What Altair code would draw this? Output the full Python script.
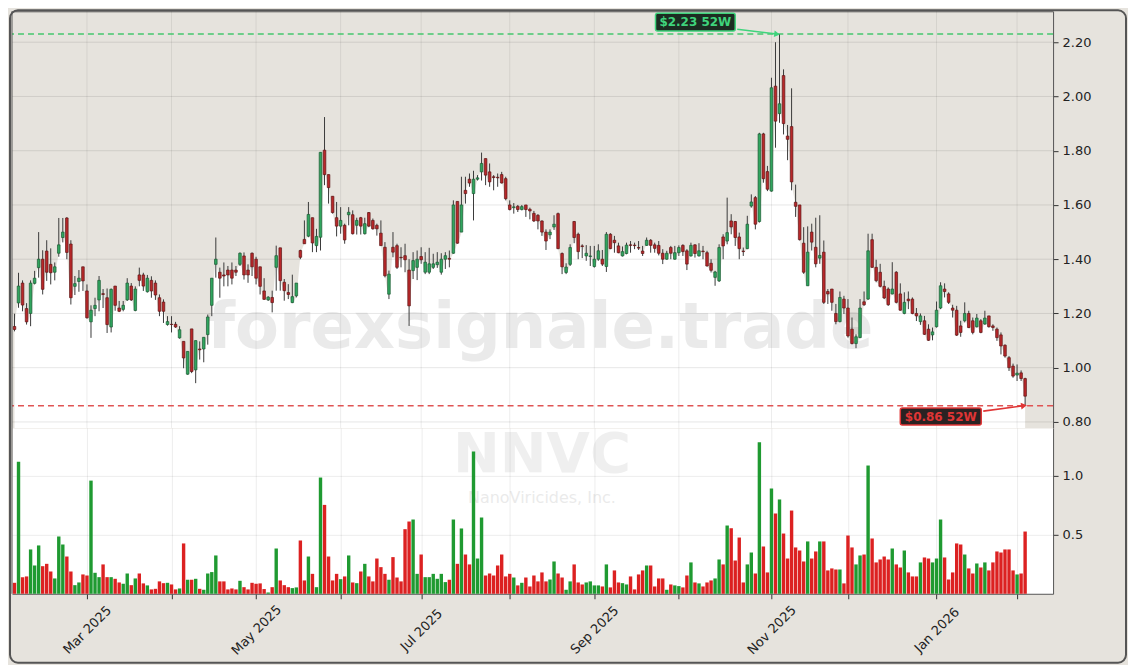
import altair as alt
import pandas as pd
import numpy as np

# ---------------- data ----------------
OPEN = [
    1.152, 1.239, 1.312, 1.218, 1.200, 1.311, 1.369, 1.400, 1.430, 1.381,
    1.352, 1.422, 1.480, 1.552, 1.456, 1.300, 1.318, 1.372, 1.283, 1.169,
    1.218, 1.250, 1.273, 1.258, 1.150, 1.301, 1.220, 1.215, 1.250, 1.301,
    1.211, 1.342, 1.342, 1.280, 1.322, 1.312, 1.258, 1.242, 1.159, 1.160,
    1.160, 1.110, 1.097, 0.976, 1.143, 0.992, 1.069, 1.069, 1.122, 1.230,
    1.381, 1.352, 1.342, 1.360, 1.360, 1.360, 1.381, 1.412, 1.360, 1.422,
    1.400, 1.372, 1.283, 1.250, 1.259, 1.370, 1.442, 1.315, 1.277, 1.240,
    1.265, 1.432, 1.473, 1.485, 1.553, 1.450, 1.481, 1.802, 1.712, 1.632,
    1.553, 1.522, 1.525, 1.564, 1.564, 1.525, 1.553, 1.494, 1.572, 1.543,
    1.525, 1.496, 1.444, 1.271, 1.444, 1.450, 1.407, 1.413, 1.360, 1.358,
    1.370, 1.410, 1.352, 1.352, 1.370, 1.380, 1.352, 1.400, 1.403, 1.422,
    1.613, 1.500, 1.654, 1.695, 1.642, 1.695, 1.722, 1.771, 1.722, 1.704,
    1.702, 1.712, 1.697, 1.600, 1.590, 1.595, 1.583, 1.600, 1.584, 1.569,
    1.562, 1.541, 1.500, 1.490, 1.519, 1.568, 1.421, 1.351, 1.381, 1.539,
    1.492, 1.449, 1.412, 1.410, 1.373, 1.400, 1.400, 1.373, 1.492, 1.470,
    1.449, 1.412, 1.421, 1.453, 1.452, 1.443, 1.430, 1.451, 1.470, 1.453,
    1.451, 1.422, 1.400, 1.443, 1.400, 1.424, 1.451, 1.431, 1.412, 1.453,
    1.412, 1.430, 1.424, 1.385, 1.333, 1.320, 1.482, 1.467, 1.541, 1.539,
    1.482, 1.430, 1.439, 1.596, 1.627, 1.539, 1.862, 1.723, 1.651, 2.038,
    1.937, 2.077, 1.854, 1.889, 1.610, 1.600, 1.459, 1.302, 1.500, 1.444,
    1.404, 1.426, 1.281, 1.290, 1.200, 1.170, 1.253, 1.220, 1.142, 1.089,
    1.111, 1.243, 1.253, 1.472, 1.370, 1.352, 1.300, 1.290, 1.272, 1.352,
    1.272, 1.200, 1.253, 1.253, 1.200, 1.170, 1.173, 1.142, 1.121, 1.151,
    1.220, 1.290, 1.272, 1.220, 1.212, 1.154, 1.173, 1.200, 1.173, 1.151,
    1.173, 1.161, 1.191, 1.154, 1.142, 1.121, 1.083, 1.037, 1.006, 0.973,
    0.981, 0.960,
]
HIGH = [
    1.199, 1.350, 1.322, 1.238, 1.322, 1.357, 1.500, 1.433, 1.470, 1.440,
    1.388, 1.552, 1.552, 1.555, 1.470, 1.338, 1.360, 1.372, 1.307, 1.230,
    1.258, 1.338, 1.290, 1.292, 1.292, 1.301, 1.246, 1.246, 1.330, 1.312,
    1.300, 1.369, 1.350, 1.342, 1.337, 1.322, 1.270, 1.252, 1.190, 1.190,
    1.169, 1.153, 1.097, 1.060, 1.143, 1.100, 1.097, 1.112, 1.196, 1.330,
    1.480, 1.369, 1.388, 1.375, 1.388, 1.375, 1.425, 1.425, 1.381, 1.425,
    1.409, 1.372, 1.330, 1.264, 1.284, 1.450, 1.442, 1.327, 1.308, 1.343,
    1.312, 1.435, 1.543, 1.611, 1.553, 1.512, 1.794, 1.924, 1.712, 1.632,
    1.611, 1.592, 1.531, 1.592, 1.580, 1.553, 1.556, 1.553, 1.574, 1.550,
    1.531, 1.543, 1.463, 1.358, 1.500, 1.457, 1.444, 1.457, 1.400, 1.426,
    1.432, 1.444, 1.426, 1.442, 1.420, 1.426, 1.422, 1.426, 1.432, 1.617,
    1.613, 1.704, 1.704, 1.716, 1.726, 1.710, 1.793, 1.771, 1.753, 1.710,
    1.716, 1.722, 1.704, 1.617, 1.607, 1.600, 1.600, 1.600, 1.590, 1.578,
    1.566, 1.543, 1.510, 1.510, 1.562, 1.572, 1.425, 1.385, 1.455, 1.541,
    1.498, 1.455, 1.452, 1.449, 1.449, 1.455, 1.434, 1.500, 1.496, 1.486,
    1.461, 1.447, 1.461, 1.467, 1.461, 1.467, 1.449, 1.480, 1.474, 1.461,
    1.467, 1.437, 1.431, 1.449, 1.449, 1.451, 1.455, 1.437, 1.461, 1.455,
    1.459, 1.449, 1.431, 1.400, 1.357, 1.455, 1.492, 1.627, 1.566, 1.541,
    1.498, 1.443, 1.560, 1.639, 1.633, 1.866, 1.866, 1.744, 2.069, 2.200,
    2.230, 2.100, 1.895, 2.030, 1.675, 1.600, 1.518, 1.521, 1.531, 1.553,
    1.562, 1.469, 1.290, 1.290, 1.235, 1.281, 1.265, 1.253, 1.185, 1.123,
    1.253, 1.281, 1.494, 1.494, 1.398, 1.383, 1.321, 1.296, 1.389, 1.356,
    1.311, 1.278, 1.281, 1.259, 1.220, 1.200, 1.191, 1.160, 1.148, 1.244,
    1.315, 1.311, 1.278, 1.232, 1.228, 1.173, 1.241, 1.210, 1.185, 1.198,
    1.179, 1.210, 1.191, 1.160, 1.148, 1.130, 1.086, 1.043, 1.015, 1.012,
    0.990, 0.963,
]
LOW = [
    1.134, 1.221, 1.208, 1.159, 1.153, 1.307, 1.332, 1.270, 1.320, 1.307,
    1.322, 1.409, 1.462, 1.400, 1.233, 1.268, 1.280, 1.283, 1.181, 1.110,
    1.190, 1.208, 1.220, 1.128, 1.130, 1.210, 1.205, 1.208, 1.246, 1.246,
    1.208, 1.300, 1.283, 1.277, 1.258, 1.250, 1.190, 1.165, 1.155, 1.130,
    1.147, 1.107, 0.998, 0.974, 0.980, 0.943, 1.030, 1.020, 1.085, 1.190,
    1.332, 1.258, 1.300, 1.300, 1.307, 1.338, 1.375, 1.325, 1.313, 1.338,
    1.307, 1.270, 1.250, 1.246, 1.204, 1.284, 1.284, 1.247, 1.253, 1.238,
    1.259, 1.400, 1.457, 1.481, 1.426, 1.426, 1.432, 1.673, 1.605, 1.568,
    1.484, 1.494, 1.457, 1.525, 1.491, 1.491, 1.491, 1.491, 1.518, 1.509,
    1.487, 1.450, 1.333, 1.253, 1.407, 1.364, 1.370, 1.352, 1.154, 1.327,
    1.323, 1.383, 1.345, 1.345, 1.364, 1.368, 1.343, 1.364, 1.370, 1.420,
    1.457, 1.500, 1.605, 1.667, 1.543, 1.690, 1.690, 1.673, 1.667, 1.654,
    1.667, 1.679, 1.617, 1.580, 1.568, 1.574, 1.580, 1.556, 1.547, 1.537,
    1.510, 1.486, 1.434, 1.474, 1.508, 1.437, 1.345, 1.345, 1.375, 1.459,
    1.400, 1.404, 1.394, 1.375, 1.369, 1.394, 1.375, 1.353, 1.437, 1.424,
    1.422, 1.410, 1.418, 1.424, 1.437, 1.434, 1.412, 1.449, 1.424, 1.424,
    1.414, 1.382, 1.398, 1.400, 1.398, 1.412, 1.412, 1.360, 1.410, 1.406,
    1.410, 1.400, 1.373, 1.351, 1.302, 1.316, 1.400, 1.455, 1.492, 1.449,
    1.400, 1.412, 1.437, 1.590, 1.510, 1.535, 1.682, 1.651, 1.649, 1.811,
    1.903, 1.860, 1.765, 1.654, 1.556, 1.469, 1.346, 1.302, 1.432, 1.370,
    1.383, 1.235, 1.235, 1.210, 1.160, 1.167, 1.198, 1.111, 1.086, 1.072,
    1.109, 1.228, 1.250, 1.368, 1.315, 1.296, 1.253, 1.228, 1.270, 1.237,
    1.210, 1.197, 1.216, 1.197, 1.172, 1.158, 1.121, 1.099, 1.101, 1.148,
    1.216, 1.259, 1.235, 1.185, 1.117, 1.114, 1.167, 1.146, 1.123, 1.148,
    1.127, 1.158, 1.148, 1.136, 1.099, 1.049, 1.037, 0.988, 0.963, 0.951,
    0.951, 0.860,
]
CLOSE = [
    1.141, 1.301, 1.231, 1.169, 1.312, 1.330, 1.400, 1.289, 1.352, 1.350,
    1.372, 1.453, 1.500, 1.425, 1.258, 1.310, 1.330, 1.320, 1.184, 1.212,
    1.230, 1.322, 1.270, 1.159, 1.289, 1.230, 1.208, 1.230, 1.312, 1.250,
    1.290, 1.322, 1.301, 1.330, 1.283, 1.268, 1.208, 1.208, 1.170, 1.159,
    1.150, 1.140, 1.036, 1.060, 0.986, 1.100, 1.066, 1.112, 1.187, 1.330,
    1.400, 1.330, 1.338, 1.342, 1.330, 1.352, 1.422, 1.342, 1.342, 1.372,
    1.330, 1.300, 1.252, 1.260, 1.240, 1.413, 1.321, 1.284, 1.270, 1.262,
    1.312, 1.407, 1.457, 1.565, 1.460, 1.484, 1.794, 1.712, 1.664, 1.572,
    1.522, 1.543, 1.471, 1.573, 1.494, 1.543, 1.522, 1.531, 1.522, 1.512,
    1.512, 1.450, 1.339, 1.345, 1.426, 1.370, 1.405, 1.398, 1.228, 1.395,
    1.400, 1.398, 1.389, 1.383, 1.383, 1.389, 1.400, 1.413, 1.400, 1.600,
    1.459, 1.600, 1.642, 1.681, 1.695, 1.700, 1.753, 1.710, 1.685, 1.701,
    1.700, 1.681, 1.623, 1.583, 1.593, 1.583, 1.594, 1.583, 1.578, 1.541,
    1.541, 1.500, 1.467, 1.500, 1.529, 1.439, 1.372, 1.371, 1.443, 1.480,
    1.428, 1.447, 1.422, 1.412, 1.400, 1.431, 1.382, 1.492, 1.439, 1.461,
    1.424, 1.428, 1.452, 1.451, 1.450, 1.441, 1.421, 1.470, 1.451, 1.440,
    1.422, 1.400, 1.422, 1.422, 1.424, 1.443, 1.428, 1.382, 1.451, 1.421,
    1.431, 1.428, 1.375, 1.359, 1.353, 1.443, 1.449, 1.498, 1.519, 1.480,
    1.439, 1.428, 1.529, 1.611, 1.529, 1.862, 1.697, 1.658, 2.032, 1.909,
    1.973, 1.900, 1.842, 1.685, 1.595, 1.472, 1.352, 1.426, 1.463, 1.383,
    1.414, 1.241, 1.272, 1.241, 1.170, 1.259, 1.220, 1.117, 1.089, 1.114,
    1.220, 1.232, 1.431, 1.370, 1.321, 1.300, 1.257, 1.232, 1.290, 1.241,
    1.212, 1.241, 1.247, 1.200, 1.191, 1.191, 1.123, 1.101, 1.132, 1.212,
    1.302, 1.281, 1.241, 1.212, 1.120, 1.130, 1.200, 1.148, 1.130, 1.183,
    1.130, 1.183, 1.151, 1.148, 1.111, 1.080, 1.043, 1.000, 0.969, 0.980,
    0.960, 0.895,
]
VOLUME = [  # millions of shares
    0.093, 1.120, 0.141, 0.147, 0.376, 0.240, 0.410, 0.234, 0.254, 0.189,
    0.130, 0.486, 0.418, 0.316, 0.189, 0.073, 0.096, 0.164, 0.155, 0.960,
    0.178, 0.141, 0.249, 0.141, 0.141, 0.127, 0.096, 0.085, 0.172, 0.073,
    0.130, 0.172, 0.088, 0.071, 0.037, 0.042, 0.105, 0.090, 0.093, 0.079,
    0.037, 0.045, 0.427, 0.119, 0.119, 0.127, 0.042, 0.034, 0.172, 0.184,
    0.325, 0.105, 0.105, 0.037, 0.045, 0.037, 0.110, 0.056, 0.037, 0.093,
    0.085, 0.088, 0.040, 0.011, 0.056, 0.384, 0.113, 0.073, 0.056, 0.048,
    0.054, 0.452, 0.113, 0.316, 0.169, 0.056, 0.986, 0.754, 0.316, 0.113,
    0.169, 0.124, 0.147, 0.325, 0.096, 0.090, 0.189, 0.254, 0.147, 0.105,
    0.299, 0.226, 0.169, 0.119, 0.311, 0.138, 0.105, 0.548, 0.613, 0.630,
    0.169, 0.333, 0.141, 0.141, 0.169, 0.127, 0.169, 0.099, 0.119, 0.630,
    0.254, 0.554, 0.333, 0.249, 1.206, 0.299, 0.647, 0.155, 0.172, 0.155,
    0.240, 0.333, 0.147, 0.169, 0.138, 0.071, 0.093, 0.138, 0.062, 0.155,
    0.105, 0.181, 0.105, 0.121, 0.274, 0.172, 0.138, 0.034, 0.105, 0.249,
    0.096, 0.079, 0.096, 0.105, 0.071, 0.071, 0.062, 0.249, 0.054, 0.198,
    0.096, 0.090, 0.079, 0.147, 0.037, 0.164, 0.198, 0.240, 0.240, 0.062,
    0.130, 0.130, 0.034, 0.079, 0.071, 0.065, 0.054, 0.155, 0.266, 0.096,
    0.088, 0.062, 0.096, 0.113, 0.130, 0.291, 0.249, 0.579, 0.556, 0.282,
    0.477, 0.096, 0.249, 0.350, 0.172, 1.285, 0.401, 0.181, 0.893, 0.681,
    0.800, 0.511, 0.299, 0.706, 0.393, 0.367, 0.274, 0.444, 0.299, 0.359,
    0.444, 0.444, 0.198, 0.215, 0.206, 0.206, 0.088, 0.494, 0.393, 0.249,
    0.325, 0.333, 1.088, 0.469, 0.266, 0.291, 0.316, 0.291, 0.384, 0.249,
    0.223, 0.367, 0.181, 0.147, 0.147, 0.266, 0.308, 0.299, 0.266, 0.299,
    0.630, 0.308, 0.121, 0.181, 0.427, 0.418, 0.333, 0.215, 0.172, 0.257,
    0.223, 0.266, 0.198, 0.266, 0.359, 0.350, 0.376, 0.376, 0.198, 0.164,
    0.172, 0.528,
]

# month-start positions (trading-day index) and their labels
MONTH_TICKS = [18, 39, 60, 81, 101, 123, 144, 165, 188, 207, 229, 249]
MONTH_LABELS = ["Mar 2025", "", "May 2025", "", "Jul 2025", "", "Sep 2025", "",
                "Nov 2025", "", "Jan 2026", ""]
PRICE_TICKS = [0.80, 1.00, 1.20, 1.40, 1.60, 1.80, 2.00, 2.20]
VOLUME_TICKS = [0.5, 1.0]
HIGH_52W = 2.23
LOW_52W = 0.86
TICKER = "NNVC"
COMPANY = "NanoViricides, Inc."
WATERMARK = "forexsignale.trade"

# ---------------- frame ----------------
n = min(len(OPEN), len(HIGH), len(LOW), len(CLOSE), len(VOLUME))
df = pd.DataFrame({
    "i": np.arange(n),
    "open": OPEN[:n], "high": HIGH[:n], "low": LOW[:n],
    "close": CLOSE[:n], "volume": VOLUME[:n],
})
df["dir"] = np.where(df["close"] >= df["open"], "up", "down")
df["body_lo"] = np.minimum(df["open"], df["close"])

hi_idx = int(df["high"].idxmax())
lo_idx = int(df["low"].idxmin())

W, H1, H2 = 1042, 417, 166
FONT = "DejaVu Sans"
BG = "#e6e3dd"
SPINE = "#555555"

xscale = alt.Scale(domain=[-0.62, 257.94], nice=False, zero=False, padding=0)
pscale = alt.Scale(domain=[0.778, 2.314], nice=False, zero=False, padding=0)
vscale = alt.Scale(domain=[0, 1.407], nice=False, zero=False, padding=0)

x_top_axis = alt.Axis(orient="top", values=MONTH_TICKS, labels=False, ticks=False,
                      grid=False, domain=True, domainColor=SPINE, domainWidth=1,
                      title=None)
p_axis = alt.Axis(orient="right", values=PRICE_TICKS, format=".2f", grid=False,
                  domainColor=SPINE, tickColor="#333333", tickSize=5,
                  labelFontSize=13, labelColor="#222222", labelFont=FONT,
                  labelPadding=4, title=None)

label_expr = " : ".join(
    f"datum.value == {t} ? '{l}'" for t, l in zip(MONTH_TICKS, MONTH_LABELS) if l
) + " : ''"
x_bot_axis = alt.Axis(orient="bottom", values=MONTH_TICKS, labelExpr=label_expr,
                      grid=True, gridColor="#000000", gridOpacity=0.08,
                      ticks=True, tickSize=5, tickColor="#333333",
                      domainColor=SPINE, labelAngle=-45, labelAlign="center",
                      labelBaseline="middle", labelPadding=31, labelFontSize=13,
                      labelColor="#222222", labelFont=FONT, labelOverlap=False,
                      labelBound=False, labelFlush=False, title=None)
v_axis = alt.Axis(orient="right", values=VOLUME_TICKS, format=".1f", grid=True,
                  gridColor="#000000", gridOpacity=0.08, domainColor=SPINE,
                  tickColor="#333333", tickSize=5, labelFontSize=13,
                  labelColor="#222222", labelFont=FONT, labelPadding=4, title=None)

XT = lambda f: alt.X(f, scale=xscale, axis=x_top_axis)
YP = lambda f: alt.Y(f, scale=pscale, axis=p_axis)
XB = lambda f: alt.X(f, scale=xscale, axis=x_bot_axis)
YV = lambda f: alt.Y(f, scale=vscale, axis=v_axis)

# ---------------- price panel ----------------
area = alt.Chart(df).mark_area(color="white", clip=True, interpolate="monotone").encode(
    x=XT("i:Q"), y=YP("body_lo:Q"))

grid_h = alt.Chart(pd.DataFrame({"p": PRICE_TICKS})).mark_rule(
    color="#000000", opacity=0.1, strokeWidth=1).encode(y=YP("p:Q"))
grid_v = alt.Chart(pd.DataFrame({"m": MONTH_TICKS})).mark_rule(
    color="#000000", opacity=0.08, strokeWidth=1).encode(x=XT("m:Q"))

wm = alt.Chart(pd.DataFrame({"i": [130.6], "p": [1.143], "t": [WATERMARK]})).mark_text(
    font=FONT, fontSize=64, fontWeight="bold", color="#888888", opacity=0.17,
    align="center", baseline="middle").encode(x=XT("i:Q"), y=YP("p:Q"), text="t:N")

hi_line = alt.Chart(pd.DataFrame({"v": [HIGH_52W]})).mark_rule(
    color="#45c86e", strokeDash=[6, 4], strokeWidth=1.5).encode(y=YP("v:Q"))
lo_line = alt.Chart(pd.DataFrame({"v": [LOW_52W]})).mark_rule(
    color="#e05454", strokeDash=[6, 4], strokeWidth=1.5).encode(y=YP("v:Q"))

wicks = alt.Chart(df).mark_rule(color="#3a3a3a", strokeWidth=1).encode(
    x=XT("i:Q"), y=YP("low:Q"), y2="high:Q")
bodies = alt.Chart(df).mark_bar(size=2.6, strokeWidth=0.7).encode(
    x=XT("i:Q"), y=YP("open:Q"), y2="close:Q",
    color=alt.Color("dir:N", scale=alt.Scale(domain=["up", "down"],
                                             range=["#30a55e", "#b8282a"]), legend=None),
    stroke=alt.Stroke("dir:N", scale=alt.Scale(domain=["up", "down"],
                                               range=["#1b5a34", "#5e1616"]), legend=None))

left_spine_top = alt.Chart(pd.DataFrame({"a": [0]})).mark_rule(
    color=SPINE, strokeWidth=1).encode(x=alt.value(0))


def label_box(cx, cy, half_w, half_h, text, fg, bg, ax0, ay0, ax1, ay1, ang):
    box = alt.Chart(pd.DataFrame({"x0": [cx - half_w], "x1": [cx + half_w],
                                  "y0": [cy - half_h], "y1": [cy + half_h]})).mark_rect(
        fill=bg, stroke=fg, strokeWidth=1.5, cornerRadius=2).encode(
        x=XT("x0:Q"), x2="x1:Q", y=YP("y0:Q"), y2="y1:Q")
    txt = alt.Chart(pd.DataFrame({"x": [cx], "y": [cy], "t": [text]})).mark_text(
        font=FONT, fontSize=12, fontWeight="bold", color=fg, align="center",
        baseline="middle").encode(x=XT("x:Q"), y=YP("y:Q"), text="t:N")
    arr = alt.Chart(pd.DataFrame({"x0": [ax0], "y0": [ay0], "x1": [ax1], "y1": [ay1]})).mark_rule(
        color=fg, strokeWidth=1.6).encode(x=XT("x0:Q"), y=YP("y0:Q"), x2="x1:Q", y2="y1:Q")
    head = alt.Chart(pd.DataFrame({"x": [ax1], "y": [ay1]})).mark_point(
        shape="triangle-right", filled=True, size=45, angle=ang, color=fg, opacity=1).encode(
        x=XT("x:Q"), y=YP("y:Q"))
    return [box, txt, arr, head]


hi_parts = label_box(169.1, 2.274, 9.9, 0.033, f"${HIGH_52W:.2f} 52W", "#3fd47c", "#1c2c22",
                     179.5, 2.248, hi_idx - 0.6, HIGH_52W, 7)
lo_parts = label_box(230.05, 0.820, 10.05, 0.031, f"${LOW_52W:.2f} 52W", "#e03535", "#2a2222",
                     240.6, 0.840, lo_idx - 0.3, LOW_52W, 352)

frame = alt.Chart(pd.DataFrame({"a": [0]})).mark_rect(
    fillOpacity=0, stroke=SPINE, strokeWidth=2, cornerRadius=8).encode(
    x=alt.value(-2), x2=alt.value(W + 73), y=alt.value(-1), y2=alt.value(652))

top = alt.layer(area, grid_h, grid_v, wm, hi_line, lo_line, wicks, bodies,
                left_spine_top, *hi_parts, *lo_parts, frame).properties(
    width=W, height=H1, view=alt.ViewBackground(fill=BG, stroke="transparent"))

# ---------------- volume panel ----------------
nnvc = alt.Chart(pd.DataFrame({"i": [131.0], "v": [1.18], "t": [TICKER]})).mark_text(
    font=FONT, fontSize=56, fontWeight="bold", color="#888888", opacity=0.13,
    align="center", baseline="middle").encode(x=XB("i:Q"), y=YV("v:Q"), text="t:N")
comp = alt.Chart(pd.DataFrame({"i": [131.0], "v": [0.81], "t": [COMPANY]})).mark_text(
    font=FONT, fontSize=16, color="#888888", opacity=0.17,
    align="center", baseline="middle").encode(x=XB("i:Q"), y=YV("v:Q"), text="t:N")

vol = alt.Chart(df).mark_bar(size=3.4).encode(
    x=XB("i:Q"), y=YV("volume:Q"),
    color=alt.Color("vdir:N", scale=alt.Scale(domain=["up", "down"],
                                              range=["#1f9a31", "#dc2121"]), legend=None)
).transform_calculate(vdir="datum.dir")
left_spine_bot = alt.Chart(pd.DataFrame({"a": [0]})).mark_rule(
    color=SPINE, strokeWidth=1).encode(x=alt.value(0))

bottom = alt.layer(nnvc, comp, vol, left_spine_bot).properties(
    width=W, height=H2, view=alt.ViewBackground(fill="white", stroke="transparent"))

chart = alt.vconcat(top, bottom, spacing=0, bounds="flush").resolve_scale(
    color="independent", stroke="independent").properties(
    padding=0, background=BG).configure_view(stroke="transparent")

chart.save("out.html", embed_options={"renderer": "svg", "actions": False})
